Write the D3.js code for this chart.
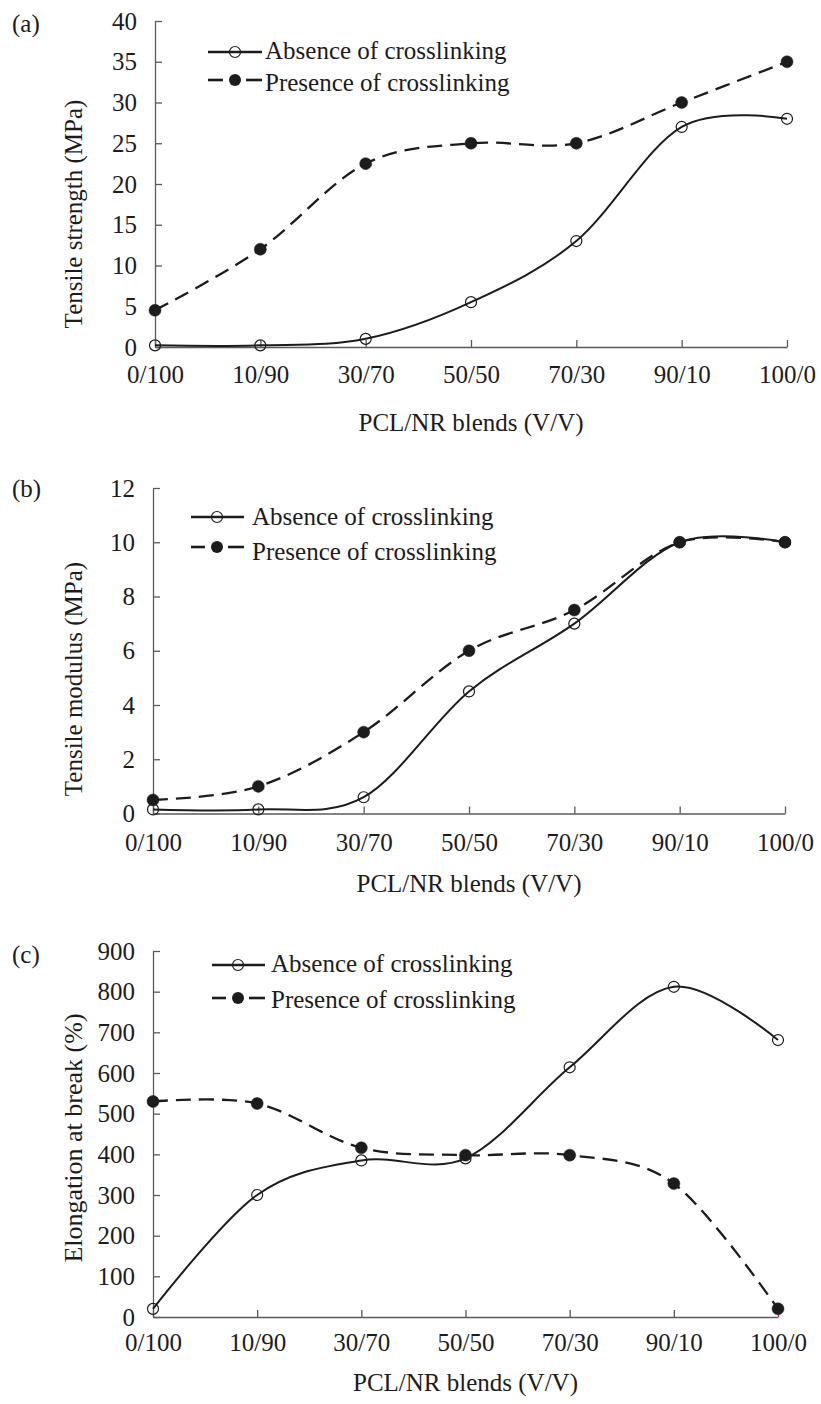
<!DOCTYPE html>
<html>
<head>
<meta charset="utf-8">
<script src="https://cdn.jsdelivr.net/npm/d3@7"></script>
<style>
  html, body { margin: 0; padding: 0; background: #fff; }
  svg { display: block; font-family: "Liberation Serif", "Times New Roman", serif; }
</style>
</head>
<body>
<svg id="fig" width="821" height="1404"></svg>
<script>
// PCL/NR blend ratios (V/V)
const blends = ["0/100", "10/90", "30/70", "50/50", "70/30", "90/10", "100/0"];

// (a) Tensile strength, MPa
const strengthAbsent  = [0.2, 0.2, 1, 5.5, 13, 27, 28];
const strengthPresent = [4.5, 12, 22.5, 25, 25, 30, 35];
const strengthTicks   = [0, 5, 10, 15, 20, 25, 30, 35, 40];

// (b) Tensile modulus, MPa
const modulusAbsent  = [0.15, 0.15, 0.6, 4.5, 7, 10, 10];
const modulusPresent = [0.5, 1, 3, 6, 7.5, 10, 10];
const modulusTicks   = [0, 2, 4, 6, 8, 10, 12];

// (c) Elongation at break, %
const elongationAbsent  = [20, 300, 385, 390, 614, 812, 681];
const elongationPresent = [530, 525, 416, 398, 398, 328, 20];
const elongationTicks   = [0, 100, 200, 300, 400, 500, 600, 700, 800, 900];

const seriesNames = ["Absence of crosslinking", "Presence of crosslinking"];

const INK = "#1c1c1c";
const AXIS = "#5a5a5a";
const FONT = "Liberation Serif, Times New Roman, serif";
const svg = d3.select("#fig");

function drawPanel(cfg) {
  const g = svg.append("g");
  const x = d3.scalePoint().domain(blends).range([cfg.left, cfg.right]);
  const y = d3.scaleLinear().domain([0, d3.max(cfg.ticks)]).range([cfg.bottom, cfg.top]);

  // y axis, ticks pointing inward
  const yAxis = d3.axisLeft(y).tickValues(cfg.ticks).tickSize(-7).tickSizeOuter(0)
    .tickPadding(18).tickFormat(d3.format("d"));
  const gy = g.append("g").attr("transform", `translate(${cfg.left},0)`).call(yAxis);

  // x axis, ticks pointing inward
  const xAxis = d3.axisBottom(x).tickSize(-7).tickSizeOuter(0);
  const gx = g.append("g").attr("transform", `translate(0,${cfg.bottom})`).call(xAxis);

  [gy, gx].forEach(a => {
    a.attr("font-family", FONT).attr("font-size", 25);
    a.select(".domain").attr("stroke", AXIS).attr("stroke-width", 1.3);
    a.selectAll(".tick line").attr("stroke", AXIS).attr("stroke-width", 1.3);
    a.selectAll(".tick text").attr("fill", INK);
  });
  gx.selectAll(".tick text").attr("y", cfg.xTickBase).attr("dy", "0");
  if (cfg.accentLastTick) {
    gx.selectAll(".tick line").filter((d, i, n) => i === n.length - 1).attr("stroke", "#d8217f");
  }

  // axis titles
  g.append("text").attr("x", (cfg.left + cfg.right) / 2).attr("y", cfg.xTitleY)
    .attr("text-anchor", "middle").attr("font-size", 25).attr("fill", INK)
    .text("PCL/NR blends (V/V)");
  g.append("text")
    .attr("transform", `translate(82,${cfg.yTitleMid}) rotate(-90)`)
    .attr("text-anchor", "middle").attr("font-size", cfg.yTitleSize).attr("fill", INK)
    .text(cfg.yTitle);

  // panel letter
  g.append("text").attr("x", 12).attr("y", cfg.letterY).attr("font-size", 25)
    .attr("fill", INK).text(cfg.letter);

  // smoothed series
  const line = d3.line()
    .x((d, i) => x(blends[i]))
    .y(d => y(d))
    .curve(d3.curveCardinal.tension(0));

  const series = [
    { values: cfg.absent, dashed: false, filled: false },
    { values: cfg.present, dashed: true, filled: true }
  ];

  series.forEach(s => {
    g.append("path").attr("d", line(s.values))
      .attr("fill", "none").attr("stroke", INK)
      .attr("stroke-width", s.dashed ? 2.3 : 2)
      .attr("stroke-dasharray", s.dashed ? "15,8" : null);
    g.selectAll(null).data(s.values).enter().append("circle")
      .attr("cx", (d, i) => x(blends[i]))
      .attr("cy", d => y(d))
      .attr("r", s.filled ? 6 : 5.5)
      .attr("fill", s.filled ? INK : "none")
      .attr("stroke", INK)
      .attr("stroke-width", s.filled ? 0.5 : 1.2);
  });

  // legend
  const lg = cfg.legend;
  seriesNames.forEach((name, k) => {
    const ry = lg.rows[k];
    if (k === 0) {
      g.append("line").attr("x1", lg.x0).attr("x2", lg.x1).attr("y1", ry).attr("y2", ry)
        .attr("stroke", INK).attr("stroke-width", 2.4);
      g.append("circle").attr("cx", lg.cx).attr("cy", ry).attr("r", 5.5)
        .attr("fill", "none").attr("stroke", INK).attr("stroke-width", 1.2);
    } else {
      [[lg.x0, lg.cx - 12], [lg.cx + 11, lg.x1]].forEach(([a, b]) => {
        g.append("line").attr("x1", a).attr("x2", b).attr("y1", ry).attr("y2", ry)
          .attr("stroke", INK).attr("stroke-width", 2.6);
      });
      g.append("circle").attr("cx", lg.cx).attr("cy", ry).attr("r", 6).attr("fill", INK);
    }
    g.append("text").attr("x", lg.textX).attr("y", ry + lg.textDy[k])
      .attr("font-size", 25).attr("fill", INK).text(name);
  });
}

drawPanel({
  letter: "(a)", letterY: 32,
  left: 155, right: 787, top: 21, bottom: 347,
  ticks: strengthTicks, absent: strengthAbsent, present: strengthPresent,
  yTitle: "Tensile strength (MPa)", yTitleMid: 214, yTitleSize: 25,
  xTickBase: 36, xTitleY: 431,
  legend: { x0: 208, x1: 262, cx: 235, textX: 265, rows: [52, 80], textDy: [7, 11] }
});

drawPanel({
  letter: "(b)", letterY: 497,
  left: 153, right: 785, top: 488, bottom: 813.5,
  ticks: modulusTicks, absent: modulusAbsent, present: modulusPresent,
  yTitle: "Tensile modulus (MPa)", yTitleMid: 679, yTitleSize: 25,
  xTickBase: 37, xTitleY: 892,
  legend: { x0: 191, x1: 244, cx: 217, textX: 252, rows: [517, 547], textDy: [8, 13] }
});

drawPanel({
  letter: "(c)", letterY: 963,
  left: 153, right: 778, top: 951, bottom: 1317,
  ticks: elongationTicks, absent: elongationAbsent, present: elongationPresent,
  yTitle: "Elongation at break (%)", yTitleMid: 1138, yTitleSize: 26,
  xTickBase: 34, xTitleY: 1391,
  legend: { x0: 212, x1: 265, cx: 238, textX: 271, rows: [965, 998], textDy: [7, 10] },
  accentLastTick: true
});
</script>
</body>
</html>
